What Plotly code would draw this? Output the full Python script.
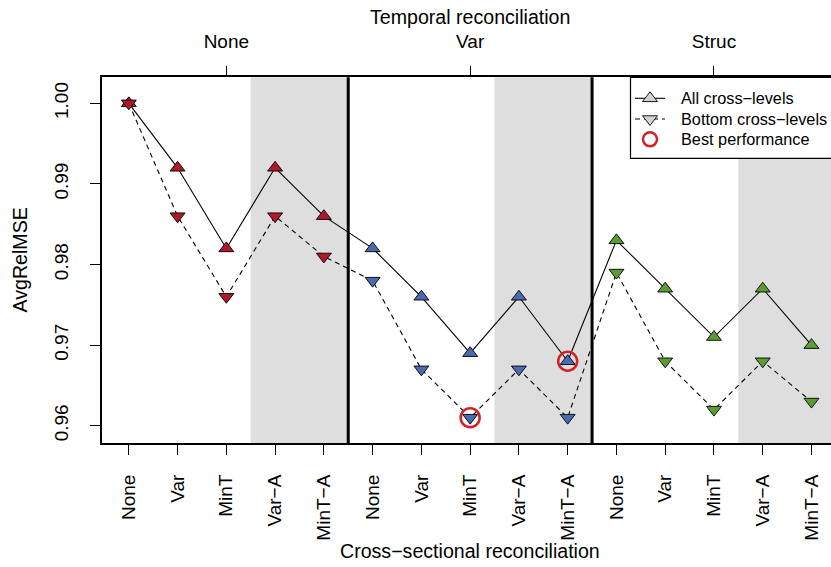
import plotly.graph_objects as go

# ---------------- data ----------------
cross_labels = ["None", "Var", "MinT", "Var\u2212A", "MinT\u2212A"]
temporal_labels = ["None", "Var", "Struc"]
all_levels = [1.000, 0.992, 0.982, 0.992, 0.986,
              0.982, 0.976, 0.969, 0.976, 0.968,
              0.983, 0.977, 0.971, 0.977, 0.970]
bottom_levels = [1.000, 0.986, 0.976, 0.986, 0.981,
                 0.978, 0.967, 0.961, 0.967, 0.961,
                 0.979, 0.968, 0.962, 0.968, 0.963]
block_colors = ["#B2182B", "#4A6BAE", "#5A9E32"]
y_ticks = [0.96, 0.97, 0.98, 0.99, 1.00]
best_all_idx = [9]      # Var / MinT-A
best_bottom_idx = [7]   # Var / MinT

W, H = 831, 567
FONT = "Liberation Sans, Arial, Helvetica, sans-serif"
nb = len(cross_labels)
n = len(all_levels)
xs = list(range(1, n + 1))
colors = [block_colors[i // nb] for i in range(n)]
x_ticktext = cross_labels * len(temporal_labels)
top_tickvals = [nb * k + (nb + 1) / 2 for k in range(len(temporal_labels))]

X_RANGE = [0.44, 15.40]
Y_RANGE = [0.95782, 1.00323]
PL, PT, PB = 101.5, 77.3, 443.3
MS = 13
DASH = "5px,4px"


def px(x):
    return x / W


def py(y):
    return 1 - y / H


fig = go.Figure()

# lines + markers
fig.add_trace(go.Scatter(x=xs, y=all_levels, mode="lines", line=dict(color="black", width=1.1),
                         hoverinfo="skip"))
fig.add_trace(go.Scatter(x=xs, y=bottom_levels, mode="lines",
                         line=dict(color="black", width=1.1, dash=DASH), hoverinfo="skip"))
fig.add_trace(go.Scatter(x=xs, y=all_levels, mode="markers",
                         marker=dict(symbol="triangle-up", size=MS, color=colors,
                                     line=dict(color="black", width=0.9))))
fig.add_trace(go.Scatter(x=xs, y=bottom_levels, mode="markers",
                         marker=dict(symbol="triangle-down", size=MS, color=colors,
                                     line=dict(color="black", width=0.9))))
best_x = [xs[i] for i in best_all_idx] + [xs[i] for i in best_bottom_idx]
best_y = [all_levels[i] for i in best_all_idx] + [bottom_levels[i] for i in best_bottom_idx]
fig.add_trace(go.Scatter(x=best_x, y=best_y, mode="markers",
                         marker=dict(symbol="circle-open", size=19, color="#D42027",
                                     line=dict(width=2.5))))
# top axis carrier
fig.add_trace(go.Scatter(x=[X_RANGE[0]], y=[Y_RANGE[0]], xaxis="x3", mode="markers",
                         marker=dict(opacity=0), hoverinfo="skip"))

# legend (pixel axes x2/y2)
BX0, BX1, BY0, BY1 = 630.5, 845, 77.3, 158.3
fig.add_trace(go.Scatter(x=[BX1, BX0, BX0, BX1], y=[BY0, BY0, BY1, BY1], xaxis="x2", yaxis="y2",
                         mode="lines", fill="toself", fillcolor="white",
                         line=dict(color="black", width=1.2), hoverinfo="skip"))
LX0, LX1, LXM, LTX = 635, 665, 650, 681
rows = [98.3, 119.0, 139.3]
fig.add_trace(go.Scatter(x=[LX0, LX1], y=[rows[0], rows[0]], xaxis="x2", yaxis="y2", mode="lines",
                         line=dict(color="black", width=1.1), hoverinfo="skip"))
fig.add_trace(go.Scatter(x=[LX0, LX1], y=[rows[1], rows[1]], xaxis="x2", yaxis="y2", mode="lines",
                         line=dict(color="black", width=1.1, dash=DASH), hoverinfo="skip"))
fig.add_trace(go.Scatter(x=[LXM], y=[rows[0]], xaxis="x2", yaxis="y2", mode="markers",
                         marker=dict(symbol="triangle-up", size=MS, color="#D3D3D3",
                                     line=dict(color="black", width=0.9))))
fig.add_trace(go.Scatter(x=[LXM], y=[rows[1]], xaxis="x2", yaxis="y2", mode="markers",
                         marker=dict(symbol="triangle-down", size=MS, color="#D3D3D3",
                                     line=dict(color="black", width=0.9))))
fig.add_trace(go.Scatter(x=[LXM], y=[rows[2]], xaxis="x2", yaxis="y2", mode="markers",
                         marker=dict(symbol="circle-open", size=14, color="#D42027",
                                     line=dict(width=2.5))))

shapes = []
# shaded regions (Var-A, MinT-A of each block)
for k in range(len(temporal_labels)):
    x0 = nb * k + 3.5
    x1 = min(nb * k + 5.5, X_RANGE[1])
    shapes.append(dict(type="rect", xref="x", yref="y domain", x0=x0, x1=x1, y0=0, y1=1,
                       fillcolor="#DEDEDE", line=dict(width=0), layer="below"))
# block separators
for k in range(1, len(temporal_labels)):
    shapes.append(dict(type="line", xref="x", yref="y domain", x0=nb * k + 0.5, x1=nb * k + 0.5,
                       y0=0, y1=1, line=dict(color="black", width=3), layer="above"))

annotations = [
    dict(text="Temporal reconciliation", x=px(470), y=py(17), xref="paper", yref="paper",
         showarrow=False, xanchor="center", yanchor="middle", font=dict(size=19.6)),
    dict(text="Cross\u2212sectional reconciliation", x=px(470), y=py(551), xref="paper", yref="paper",
         showarrow=False, xanchor="center", yanchor="middle", font=dict(size=19.6)),
    dict(text="AvgRelMSE", x=px(19.5), y=py(260), xref="paper", yref="paper", textangle=-90,
         showarrow=False, xanchor="center", yanchor="middle", font=dict(size=19.6)),
]
leg_texts = ["All cross\u2212levels", "Bottom cross\u2212levels", "Best performance"]
for t, r in zip(leg_texts, rows):
    annotations.append(dict(text=t, x=px(LTX - 2), y=py(r), xref="paper", yref="paper",
                            showarrow=False, xanchor="left", yanchor="middle",
                            font=dict(size=16.3)))

fig.update_layout(
    width=W, height=H,
    margin=dict(l=0, r=0, t=0, b=0),
    paper_bgcolor="white", plot_bgcolor="rgba(0,0,0,0)",
    showlegend=False,
    font=dict(family=FONT, color="black", size=19),
    xaxis=dict(domain=[px(PL), 1], range=X_RANGE, tickvals=xs, ticktext=x_ticktext,
               tickangle=-90, ticks="outside", ticklen=10, tickwidth=1.2, tickcolor="black",
               showline=True, linewidth=1.5, linecolor="black", showgrid=False, zeroline=False,
               tickfont=dict(size=19), ticklabelstandoff=12, automargin=False, fixedrange=True),
    xaxis3=dict(overlaying="x", side="top", anchor="y", range=X_RANGE, tickvals=top_tickvals,
                ticktext=temporal_labels, tickangle=0, ticks="outside", ticklen=10, tickwidth=1.2,
                tickcolor="black", showline=True, linewidth=1.5, linecolor="black",
                showgrid=False, zeroline=False, tickfont=dict(size=19), ticklabelstandoff=10,
                automargin=False),
    yaxis=dict(domain=[py(PB), py(PT)], range=Y_RANGE, tickvals=y_ticks,
               ticktext=[f"{v:.2f}" for v in y_ticks], tickangle=-90, ticks="outside", ticklen=10,
               tickwidth=1.2, tickcolor="black", showline=True, linewidth=1.5, linecolor="black",
               showgrid=False, zeroline=False, tickfont=dict(size=19), ticklabelstandoff=14,
               automargin=False),
    xaxis2=dict(domain=[0, 1], range=[0, W], visible=False, anchor="y2"),
    yaxis2=dict(domain=[0, 1], range=[H, 0], visible=False, anchor="x2"),
    shapes=shapes,
    annotations=annotations,
)

fig.write_html("out.html")
